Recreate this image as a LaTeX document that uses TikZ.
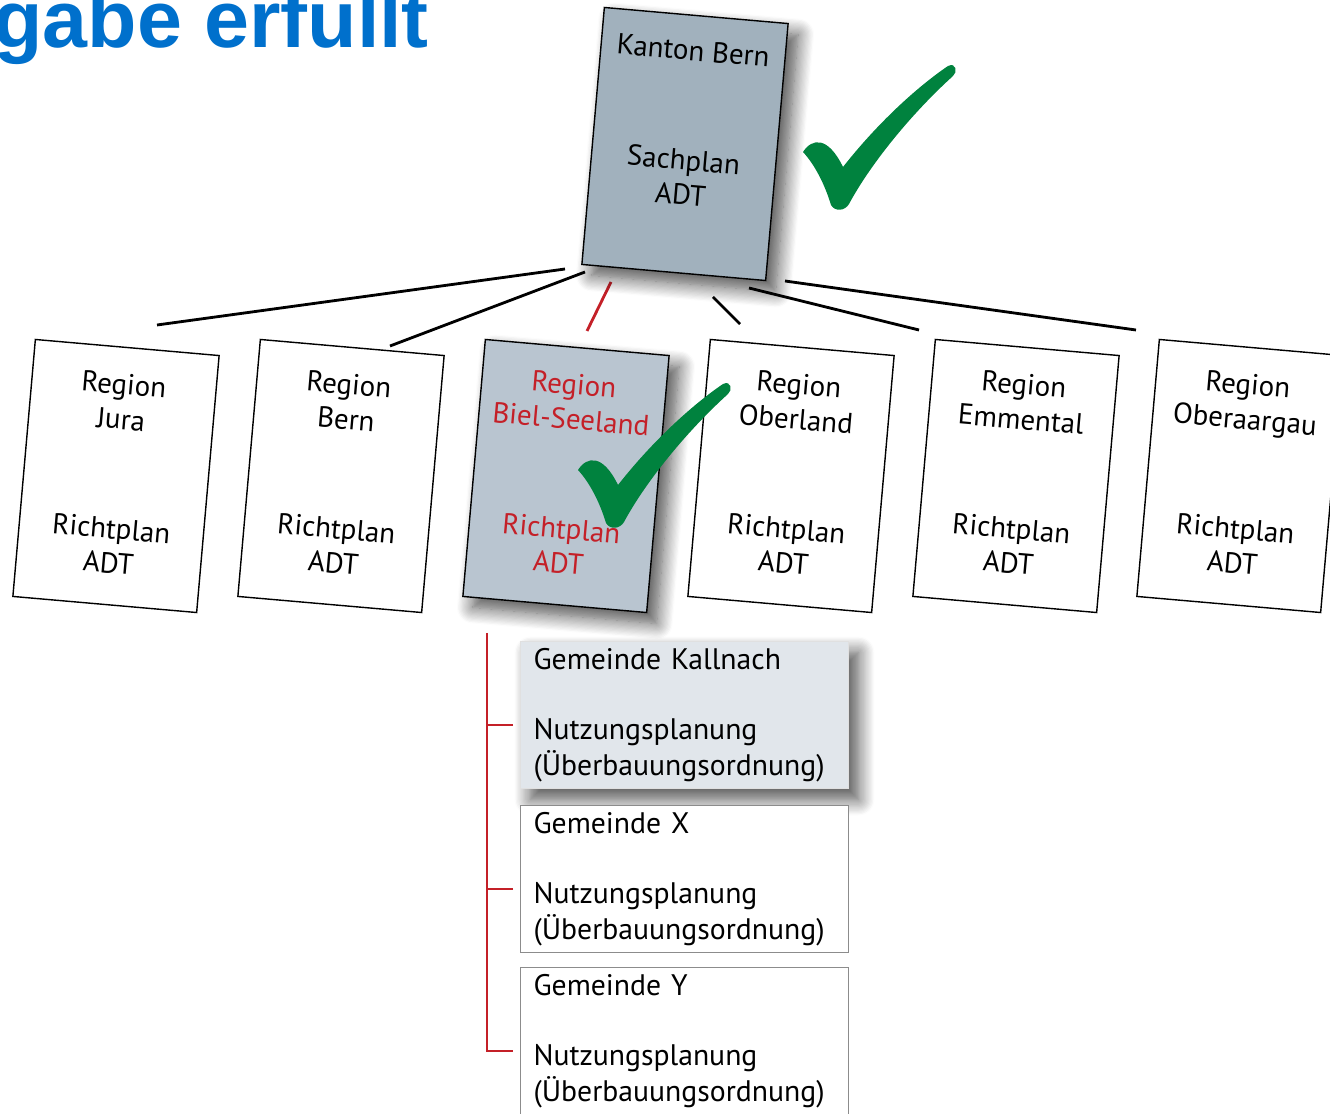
\documentclass[tikz,border=0pt]{standalone}
\usepackage{fontspec}
\setmainfont{PT Sans}
\newfontfamily\headfont{Liberation Sans}
\usepackage{tikz}
\usetikzlibrary{positioning,calc,shadows.blur}

\definecolor{headblue}{RGB}{0,112,204}
\definecolor{checkgreen}{RGB}{0,130,62}
\definecolor{docred}{RGB}{196,32,40}
\definecolor{kantonfill}{RGB}{161,177,189}
\definecolor{bielfill}{RGB}{185,197,208}
\definecolor{kallfill}{RGB}{225,230,235}

\tikzset{
    doc/.style={draw=black, line width=0.8pt, fill=white, rotate=-5,
        minimum width=3.69cm, minimum height=5.16cm, inner sep=0pt},
    doctext/.style={rotate=-5, anchor=north, inner xsep=0pt, inner ysep=0.54cm,
        align=center, font=\fontsize{16.5}{19.8}\selectfont},
    gem/.style={draw=black!45, line width=0.6pt, fill=white, anchor=north west,
        align=left, text width=6.04cm, inner xsep=0.26cm, inner ysep=0.12cm,
        minimum height=2.94cm, font=\fontsize{16.9}{20}\selectfont},
    softshadow/.style={blur shadow={shadow xshift=0.2cm, shadow yshift=-0.22cm,
        shadow blur radius=0.32cm, shadow blur steps=14, shadow opacity=70}},
    link/.style={line width=1.6pt},
    redlink/.style={link, draw=docred},
    pics/checkmark/.style={code={
        \fill[checkgreen] (-37,-56) .. controls (-28,-70) and (-12,-72) .. (3,-41)
            .. controls (40,-88) and (80,-123) .. (108,-142)
            .. controls (116,-146) and (118,-136) .. (113,-132)
            .. controls (70,-93) and (30,-43) .. (9,-4)
            .. controls (5,3) and (-5,4) .. (-9,-3)
            .. controls (-15,-23) and (-25,-43) .. (-37,-56) -- cycle;
    }}
}

\begin{document}
\begin{tikzpicture}[x=0.02cm, y=-0.02cm]
    \useasboundingbox (0,0) rectangle (1330,1114);

    % Kanton -> Regionen
    \coordinate (k1) at (565,269); \coordinate (r1) at (157,325);
    \coordinate (k2) at (585,272); \coordinate (r2) at (390,346);
    \coordinate (k3) at (611,282); \coordinate (r3) at (587,331);
    \coordinate (k4) at (713,297); \coordinate (r4) at (740,324);
    \coordinate (k5) at (749,288); \coordinate (r5) at (919,330);
    \coordinate (k6) at (785,281); \coordinate (r6) at (1136,330);
    \draw[link] (k1) -- (r1);
    \draw[link] (k2) -- (r2);
    \draw[redlink] (k3) -- (r3);
    \draw[link] (k4) -- (r4);
    \draw[link] (k5) -- (r5);
    \draw[link] (k6) -- (r6);

    \node[doc, fill=kantonfill, softshadow] (kanton) at (685,144) {};
    \node[doctext, inner ysep=0.5cm] (kanton-t) at (kanton.north) {Kanton Bern\\[1.5cm]Sachplan\\ADT};

    \node[doc] (jura) at (116,476) {};
    \node[doctext] (jura-t) at (jura.north) {Region\\Jura\\[1.5cm]Richtplan\\ADT};
    \node[doc] (bern) at (341,476) {};
    \node[doctext] (bern-t) at (bern.north) {Region\\Bern\\[1.5cm]Richtplan\\ADT};
    \node[doc, fill=bielfill, softshadow] (biel) at (566,476) {};
    \node[doctext, text=docred] (biel-t) at (biel.north) {Region\\Biel-Seeland\\[1.5cm]Richtplan\\ADT};
    \node[doc] (oberland) at (791,476) {};
    \node[doctext] (oberland-t) at (oberland.north) {Region\\Oberland\\[1.5cm]Richtplan\\ADT};
    \node[doc] (emmental) at (1016,476) {};
    \node[doctext] (emmental-t) at (emmental.north) {Region\\Emmental\\[1.5cm]Richtplan\\ADT};
    \node[doc] (oberaargau) at (1240,476) {};
    \node[doctext] (oberaargau-t) at (oberaargau.north) {Region\\Oberaargau\\[1.5cm]Richtplan\\ADT};

    % Gemeinden
    \node[gem, draw=black!12, fill=kallfill, softshadow] (kallnach) at (520,641)
        {Gemeinde Kallnach\\[20pt]Nutzungsplanung\\(Überbauungsordnung)};
    \node[gem] (gx) at (520,805) {Gemeinde X\\[20pt]Nutzungsplanung\\(Überbauungsordnung)};
    \node[gem] (gy) at (520,967) {Gemeinde Y\\[20pt]Nutzungsplanung\\(Überbauungsordnung)};

    \coordinate (trunk) at (487,633);
    \draw[redlink, line width=1.3pt] (trunk) |- ([xshift=-0.14cm, yshift=-0.2cm]gy.west);
    \foreach \g in {kallnach,gx}
        \draw[redlink, line width=1.3pt] ([xshift=-0.14cm, yshift=-0.2cm]\g.west) -- ++(-0.52cm,0);

    % Haken
    \pic at (840,208) {checkmark};
    \pic at (615,526) {checkmark};

    \node[anchor=base west, inner sep=0pt, text=headblue,
        font=\headfont\bfseries\fontsize{46}{50}\selectfont] (title) at (-7,48) {gabe erfüllt};
\end{tikzpicture}
\end{document}
